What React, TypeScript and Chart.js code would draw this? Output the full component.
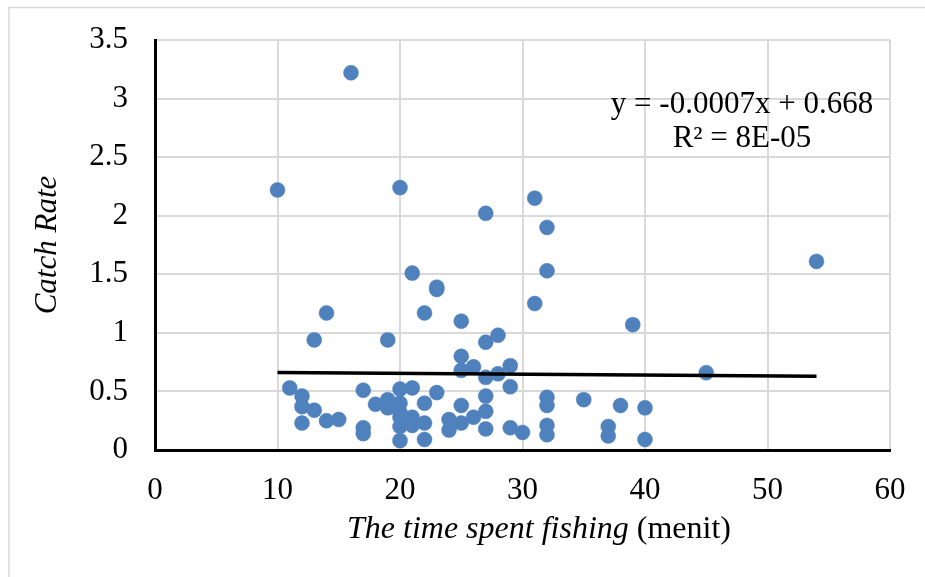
import React, { useEffect, useRef } from "react";
import { Chart, registerables } from "chart.js";

Chart.register(...registerables);

// Time spent fishing (minutes)
const timeSpent: number[] = [
  16, 10, 20, 27, 31, 32, 54, 21, 32, 23, 23, 31, 14, 22, 25, 39, 13, 19, 28, 27,
  25, 26, 25, 29, 28, 27, 45, 11, 17, 20, 21, 23, 29, 12, 12, 13, 12, 14, 15, 17,
  17, 18, 19, 19, 20, 20, 20, 20, 21, 21, 22, 22, 22, 24, 24, 25, 25, 26, 27, 27,
  27, 29, 30, 32, 32, 32, 32, 35, 37, 37, 38, 40, 40, 20,
];
// Catch rate
const catchRate: number[] = [
  3.22, 2.22, 2.24, 2.02, 2.15, 1.9, 1.61, 1.51, 1.53, 1.39, 1.37, 1.25, 1.17, 1.17, 1.1, 1.07, 0.94, 0.94, 0.98, 0.92,
  0.8, 0.71, 0.68, 0.72, 0.65, 0.62, 0.66, 0.53, 0.51, 0.52, 0.53, 0.49, 0.54, 0.46, 0.37, 0.34, 0.23, 0.25, 0.26, 0.19,
  0.14, 0.39, 0.43, 0.36, 0.4, 0.32, 0.2, 0.08, 0.28, 0.21, 0.4, 0.23, 0.09, 0.26, 0.17, 0.38, 0.23, 0.28, 0.46, 0.33,
  0.18, 0.19, 0.15, 0.45, 0.38, 0.21, 0.13, 0.43, 0.2, 0.12, 0.38, 0.36, 0.09, 0.28,
];

const trendSlope = -0.0007;
const trendIntercept = 0.668;
const equationText = "y = -0.0007x + 0.668";
const r2Text = "R² = 8E-05";
const yTitle = "Catch Rate";
const xTitleItalic = "The time spent fishing";
const xTitleRegular = " (menit)";

const xTicks = [0, 10, 20, 30, 40, 50, 60];
const yTicks = [0, 0.5, 1, 1.5, 2, 2.5, 3, 3.5];

const FONT = '"Liberation Serif", "Times New Roman", serif';
const FS = 31;

export default function App() {
  const ref = useRef<HTMLCanvasElement | null>(null);

  useEffect(() => {
    if (!ref.current) return;
    const points = timeSpent.map((t, i) => ({ x: t, y: catchRate[i] }));
    const xMin = Math.min(...timeSpent);
    const xMax = Math.max(...timeSpent);
    const trend = [
      { x: xMin, y: trendSlope * xMin + trendIntercept },
      { x: xMax, y: trendSlope * xMax + trendIntercept },
    ];

    const textPlugin = {
      id: "textPlugin",
      afterDraw(chart: any) {
        const ctx = chart.ctx as CanvasRenderingContext2D;
        ctx.save();
        // outer frame (top + left)
        ctx.strokeStyle = "#D9D9D9";
        ctx.lineWidth = 1.5;
        ctx.beginPath();
        ctx.moveTo(9, 577);
        ctx.lineTo(9, 7.5);
        ctx.lineTo(925, 7.5);
        ctx.stroke();

        ctx.fillStyle = "#000";
        ctx.textBaseline = "middle";
        // equation
        ctx.font = `${FS}px ${FONT}`;
        ctx.textAlign = "center";
        ctx.fillText(equationText, 742, 105);
        ctx.fillText(r2Text, 742, 139);

        // y title
        ctx.save();
        ctx.translate(48, 245);
        ctx.rotate(-Math.PI / 2);
        ctx.font = `italic ${FS}px ${FONT}`;
        ctx.textAlign = "center";
        ctx.fillText(yTitle, 0, 0);
        ctx.restore();

        // x title (mixed style)
        const TS = 32;
        ctx.textAlign = "left";
        ctx.font = `italic ${TS}px ${FONT}`;
        const w1 = ctx.measureText(xTitleItalic).width;
        ctx.font = `${TS}px ${FONT}`;
        const w2 = ctx.measureText(xTitleRegular).width;
        const startX = 539 - (w1 + w2) / 2;
        const ty = 530;
        ctx.font = `italic ${TS}px ${FONT}`;
        ctx.fillText(xTitleItalic, startX, ty);
        ctx.font = `${TS}px ${FONT}`;
        ctx.fillText(xTitleRegular, startX + w1, ty);
        ctx.restore();
      },
    };

    const chart = new Chart(ref.current, {
      type: "scatter",
      data: {
        datasets: [
          {
            type: "line",
            label: "Trend",
            data: trend,
            borderColor: "#000",
            borderWidth: 3.5,
            pointRadius: 0,
            fill: false,
            order: 0,
          } as any,
          {
            label: "Catch Rate",
            data: points,
            backgroundColor: "#4F81BD",
            borderColor: "#4F81BD",
            borderWidth: 0.5,
            pointRadius: 7.5,
            order: 1,
          },
        ],
      },
      plugins: [textPlugin],
      options: {
        responsive: false,
        animation: false,
        devicePixelRatio: 1,
        layout: { autoPadding: false, padding: { left: 0, top: 40, right: 35, bottom: 0 } },
        plugins: {
          legend: { display: false },
          tooltip: { enabled: false },
        },
        scales: {
          x: {
            type: "linear",
            min: 0,
            max: 60,
            afterBuildTicks: (s: any) => {
              s.ticks = xTicks.map((v) => ({ value: v }));
            },
            afterFit: (s: any) => {
              s.height = 127;
              s.paddingLeft = 0;
              s.paddingRight = 0;
            },
            ticks: {
              color: "#000",
              font: { family: FONT, size: FS },
              padding: 22,
              maxRotation: 0,
            },
            grid: { color: "#D9D9D9", lineWidth: 2, drawTicks: false },
            border: { color: "#000", width: 3 },
          },
          y: {
            type: "linear",
            min: 0,
            max: 3.5,
            afterBuildTicks: (s: any) => {
              s.ticks = yTicks.map((v) => ({ value: v }));
            },
            afterFit: (s: any) => {
              s.width = 155;
              s.paddingTop = 0;
              s.paddingBottom = 0;
            },
            ticks: {
              color: "#000",
              font: { family: FONT, size: FS },
              padding: 27,
              callback: (v: any) => String(v),
            },
            grid: { color: "#D9D9D9", lineWidth: 2, drawTicks: false },
            border: { color: "#000", width: 3 },
          },
        },
      },
    });
    return () => chart.destroy();
  }, []);

  return (
    <div style={{ position: "absolute", left: 0, top: 0, width: 925, height: 577, background: "#fff" }}>
      <canvas ref={ref} width={925} height={577} style={{ width: 925, height: 577, display: "block" }} />
    </div>
  );
}
